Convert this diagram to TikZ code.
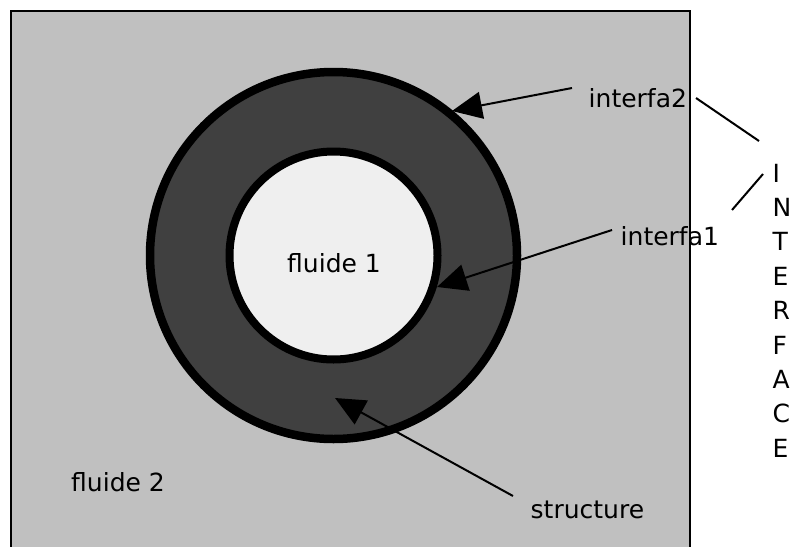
\documentclass[tikz,border=0pt]{standalone}
\usepackage{fontspec}
\setmainfont{DejaVu Sans}
\usetikzlibrary{arrows.meta}
\definecolor{bggray}{RGB}{192,192,192}
\definecolor{ringgray}{RGB}{64,64,64}
\definecolor{coregray}{RGB}{239,239,239}
\begin{document}
\begin{tikzpicture}[x=1pt,y=-1pt,
  lbl/.style={anchor=base west,inner sep=0pt,font=\fontsize{25}{34.4}\selectfont},
  ptr/.style={line width=2pt,-{Triangle[length=30pt,width=27pt]}},
  lead/.style={line width=2pt},
  disc/.style={circle,draw,inner sep=0pt}]
\useasboundingbox (0,0) rectangle (791,546);
\clip (0,0) rectangle (791,546);
\draw[line width=2.5pt,fill=bggray] (11,11) rectangle (690,600);
\node[disc,line width=8.5pt,fill=ringgray,minimum size=367pt] (ring) at (333.5,255.5) {};
\node[disc,line width=8pt,fill=coregray,minimum size=208pt] (core) at (333.5,255.5) {};
\node[lbl] (f1) at (287,272) {fluide 1};
\node[lbl] (f2) at (71,491) {fluide 2};
\node[lbl] (i2) at (588.5,107) {interfa2};
\node[lbl] (i1) at (620.5,245) {interfa1};
\node[lbl] (st) at (530.5,518) {structure};
\node[lbl] (iface) at (772.5,182) {\vtop{\baselineskip=34.4pt\hbox{I}\hbox{N}\hbox{T}\hbox{E}\hbox{R}\hbox{F}\hbox{A}\hbox{C}\hbox{E}}};
\coordinate (i2s) at (572,88);
\coordinate (i2t) at (452,111);
\coordinate (i1s) at (612,230);
\coordinate (i1t) at (437,287);
\coordinate (sts) at (513,496);
\coordinate (stt) at (335,398);
\coordinate (l1a) at (696,98);
\coordinate (l1b) at (759,141);
\coordinate (l2a) at (763,174);
\coordinate (l2b) at (732,210);
\draw[ptr] (i2s) -- (i2t);
\draw[ptr] (i1s) -- (i1t);
\draw[ptr] (sts) -- (stt);
\draw[lead] (l1a) -- (l1b);
\draw[lead] (l2a) -- (l2b);
\end{tikzpicture}
\end{document}
